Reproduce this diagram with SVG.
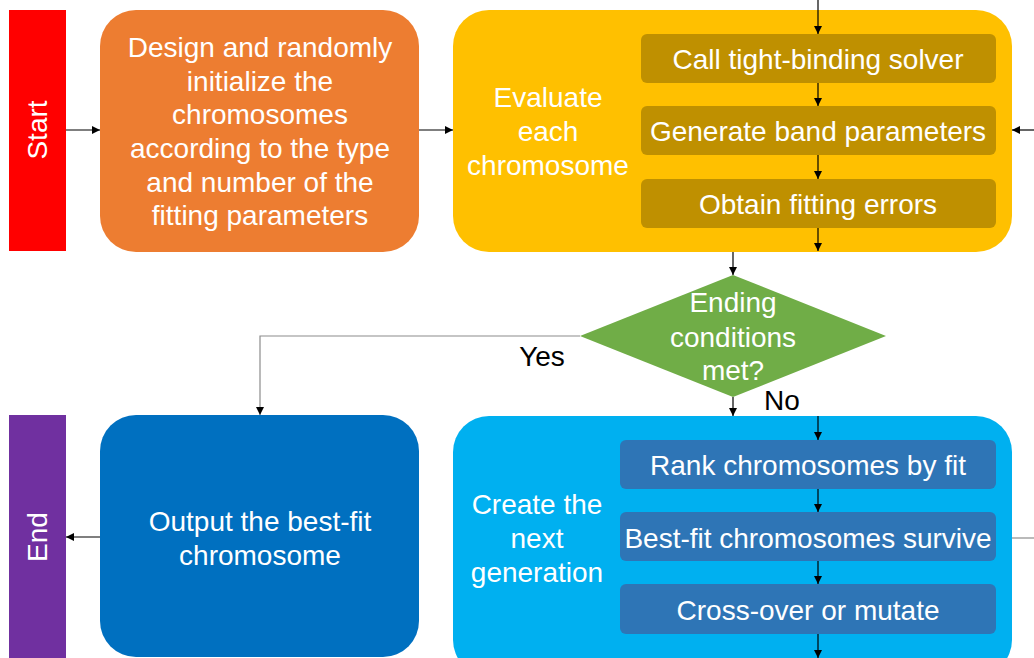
<svg xmlns="http://www.w3.org/2000/svg" width="1034" height="658" viewBox="0 0 1034 658">
<style>
text{font-family:"Liberation Sans",Arial,sans-serif;font-size:28px;fill:#fff;text-anchor:middle}
.lbl{fill:#000}
.c{stroke:#000;stroke-width:1.2;fill:none}
.g{stroke:#8c8c8c;stroke-width:1.2;fill:none}
</style>
<defs>
<marker id="ah" viewBox="0 0 10 10" refX="10" refY="5" markerWidth="8" markerHeight="8" markerUnits="userSpaceOnUse" orient="auto">
<path d="M0,0 L10,5 L0,10 z" fill="#000"/>
</marker>
</defs>
<rect width="1034" height="658" fill="#fff"/>

<g id="start">
<rect x="9" y="10" width="57" height="241" fill="#FF0000"/>
<text transform="translate(47,130) rotate(-90)">Start</text>
</g>
<g id="init">
<rect x="100" y="10" width="319" height="242" rx="36" fill="#ED7D31"/>
<text x="260" y="57">Design and randomly</text>
<text x="260" y="91">initialize the</text>
<text x="260" y="124">chromosomes</text>
<text x="260" y="158">according to the type</text>
<text x="260" y="192">and number of the</text>
<text x="260" y="225">fitting parameters</text>
</g>
<g id="evaluate">
<rect x="453" y="10" width="559" height="242" rx="36" fill="#FFC000"/>
<text x="548" y="107">Evaluate</text>
<text x="548" y="141">each</text>
<text x="548" y="175">chromosome</text>
</g>
<g id="call">
<rect x="641" y="34" width="355" height="49" rx="6" fill="#BF9000"/>
<text x="818" y="69">Call tight-binding solver</text>
</g>
<g id="generate">
<rect x="641" y="106" width="355" height="49" rx="6" fill="#BF9000"/>
<text x="818" y="141">Generate band parameters</text>
</g>
<g id="obtain">
<rect x="641" y="179" width="355" height="49" rx="6" fill="#BF9000"/>
<text x="818" y="214">Obtain fitting errors</text>
</g>
<g id="decision">
<polygon points="733,275 886,336 733,397 580,336" fill="#70AD47"/>
<text x="733" y="312">Ending</text>
<text x="733" y="347">conditions</text>
<text x="733" y="380">met?</text>
</g>
<g id="end">
<rect x="9" y="415" width="57" height="250" fill="#7030A0"/>
<text transform="translate(47,537) rotate(-90)">End</text>
</g>
<g id="output">
<rect x="100" y="415" width="319" height="242" rx="36" fill="#0070C0"/>
<text x="260" y="531">Output the best-fit</text>
<text x="260" y="565">chromosome</text>
</g>
<g id="nextgen">
<rect x="453" y="416" width="559" height="260" rx="36" fill="#00B0F0"/>
<text x="537" y="514">Create the</text>
<text x="537" y="548">next</text>
<text x="537" y="582">generation</text>
</g>
<g id="rank">
<rect x="620" y="440" width="376" height="49" rx="6" fill="#2E75B6"/>
<text x="808" y="475">Rank chromosomes by fit</text>
</g>
<g id="survive">
<rect x="620" y="512" width="376" height="49" rx="6" fill="#2E75B6"/>
<text x="808" y="548">Best-fit chromosomes survive</text>
</g>
<g id="cross">
<rect x="620" y="584" width="376" height="50" rx="6" fill="#2E75B6"/>
<text x="808" y="620">Cross-over or mutate</text>
</g>

<g id="connectors">
<line class="c" x1="66" y1="130" x2="100" y2="130" marker-end="url(#ah)"/>
<line class="c" x1="419" y1="130" x2="453" y2="130" marker-end="url(#ah)"/>
<line class="c" x1="1034" y1="130" x2="1012" y2="130" marker-end="url(#ah)"/>
<line class="c" x1="818" y1="0" x2="818" y2="34" marker-end="url(#ah)"/>
<line class="c" x1="818" y1="83" x2="818" y2="106" marker-end="url(#ah)"/>
<line class="c" x1="818" y1="155" x2="818" y2="179" marker-end="url(#ah)"/>
<line class="c" x1="818" y1="228" x2="818" y2="251" marker-end="url(#ah)"/>
<line class="c" x1="733" y1="252" x2="733" y2="275" marker-end="url(#ah)"/>
<polyline class="g" points="580,336 260,336 260,415" marker-end="url(#ah)"/>
<text class="lbl" x="542" y="366">Yes</text>
<line class="c" x1="733" y1="397" x2="733" y2="416" marker-end="url(#ah)"/>
<text class="lbl" x="782" y="410">No</text>
<line class="c" x1="818" y1="416" x2="818" y2="440" marker-end="url(#ah)"/>
<line class="c" x1="818" y1="489" x2="818" y2="512" marker-end="url(#ah)"/>
<line class="c" x1="818" y1="561" x2="818" y2="584" marker-end="url(#ah)"/>
<line class="c" x1="818" y1="634" x2="818" y2="658" marker-end="url(#ah)"/>
<line class="g" x1="1012" y1="538" x2="1034" y2="538"/>
<line class="c" x1="100" y1="537" x2="66" y2="537" marker-end="url(#ah)"/>
</g>
</svg>
